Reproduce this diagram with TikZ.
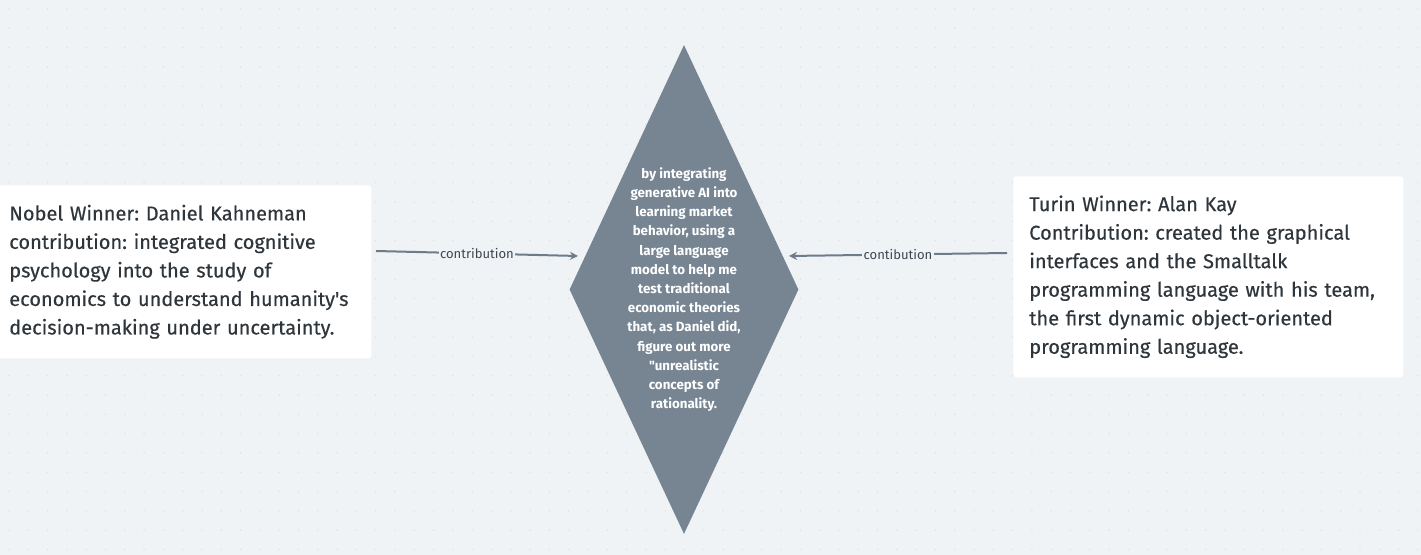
\documentclass[tikz,border=0pt]{standalone}
\usepackage{fontspec}
\setmainfont{Fira Sans}
\newfontfamily\cardfont{Fira Sans}[FakeBold=0.35]
\frenchspacing
\usetikzlibrary{shapes.geometric,arrows.meta}
\definecolor{bgc}{HTML}{F0F3F6}
\definecolor{dotc}{HTML}{DCE1E6}
\definecolor{diac}{HTML}{778593}
\definecolor{arrc}{HTML}{6E7B8A}
\definecolor{txtc}{HTML}{2E353B}
\definecolor{lblc}{HTML}{3E4750}
\tikzset{
  card/.style={draw=none, fill=white, rounded corners=2.25pt, align=left, anchor=north west,
    font=\cardfont\fontsize{15pt}{21.4pt}\selectfont, text=txtc, inner ysep=0pt},
  conn/.style={draw=arrc, line width=1.5pt, -{Stealth[length=6pt,width=6pt]}},
  clabel/.style={fill=bgc, text=lblc, font=\fontsize{9.8pt}{10pt}\selectfont, inner sep=1.1pt},
  diatext/.style={text=white, align=center, font=\bfseries\fontsize{10pt}{14.4pt}\selectfont}
}
\begin{document}
\begin{tikzpicture}[x=0.75pt,y=-0.75pt]
\fill[bgc] (0,0) rectangle (1421,555);
\useasboundingbox (0,0) rectangle (1421,555);
\foreach \i in {0,...,73}{\foreach \j in {0,...,28}{\fill[dotc] (9+\i*19.3,9+\j*19.3) circle (0.6pt);}}
% diamond
\node[diamond, fill=diac, minimum width=171.75pt, minimum height=366.75pt, inner sep=0pt] (d) at (684,289.5) {};
\node[diatext] (dt) at (684,289.5) {by integrating\\generative AI into\\learning market\\behavior, using a\\large language\\model to help me\\test traditional\\economic theories\\that, as Daniel did,\\figure out more\\\textquotedbl unrealistic\\concepts of\\rationality.};
% left card
\node[card, minimum width=282.75pt, minimum height=129.75pt, text width=260.25pt, inner xsep=11.25pt] (nobel) at (-6,185)
  {Nobel Winner: Daniel Kahneman\\contribution: integrated cognitive\\psychology into the study of\\economics to understand humanity's\\decision-making under uncertainty.};
% right card
\node[card, minimum width=292.5pt, minimum height=150.75pt, text width=268.5pt, inner xsep=12pt] (turing) at (1013,176)
  {Turin Winner: Alan Kay\\Contribution: created the graphical\\interfaces and the Smalltalk\\programming language with his team,\\the first dynamic object-oriented\\programming language.};
% connectors
\coordinate (l1) at (376,251);
\coordinate (l2) at (578,256);
\coordinate (r1) at (1007,253);
\coordinate (r2) at (789,256);
\draw[conn] (l1) -- node[clabel] {contribution} (l2);
\draw[conn] (r1) -- node[clabel] {contibution} (r2);
\end{tikzpicture}
\end{document}
